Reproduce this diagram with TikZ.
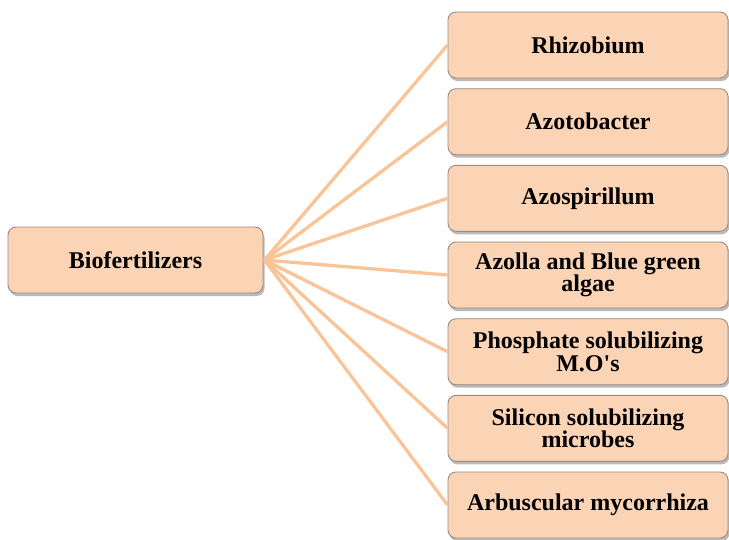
\documentclass[tikz,border=0pt]{standalone}
\usepackage{fontspec}
\setmainfont{Liberation Serif}
\usetikzlibrary{shadows}
\definecolor{boxfill}{HTML}{FBD3B5}
\definecolor{boxline}{HTML}{9C8B80}
\definecolor{linkcol}{HTML}{F9C497}
\tikzset{
  itembox/.style={draw=boxline, line width=0.9pt, fill=boxfill, rounded corners=8pt,
    minimum width=280pt, minimum height=66pt, align=center, inner sep=2pt,
    font=\fontsize{24pt}{22.5pt}\selectfont\bfseries,
    drop shadow={shadow xshift=1.5pt, shadow yshift=-3pt, fill=black!45, opacity=0.6}},
  rootbox/.style={itembox, minimum width=255pt},
  link/.style={draw=linkcol, line width=3.3pt}
}
\begin{document}
\begin{tikzpicture}[x=1pt,y=-1pt]
\useasboundingbox (0,0) rectangle (729,539);
\node[rootbox] (root) at (135.5,260) {Biofertilizers};
\node[itembox] (n1) at (588,45) {Rhizobium};
\node[itembox] (n2) at (588,121.7) {Azotobacter};
\node[itembox] (n3) at (588,198.3) {Azospirillum};
\node[itembox] (n4) at (588,275) {Azolla and Blue green\\algae};
\node[itembox] (n5) at (588,351.7) {Phosphate solubilizing\\M.O\textquotesingle s};
\node[itembox] (n6) at (588,428.3) {Silicon solubilizing\\microbes};
\node[itembox] (n7) at (588,505) {Arbuscular mycorrhiza};
\coordinate (hub) at ([xshift=1pt]root.east);
\foreach \n in {n1,n2,n3,n4,n5,n6,n7}{
  \draw[link] (hub) -- (\n.west);
}
\end{tikzpicture}
\end{document}
